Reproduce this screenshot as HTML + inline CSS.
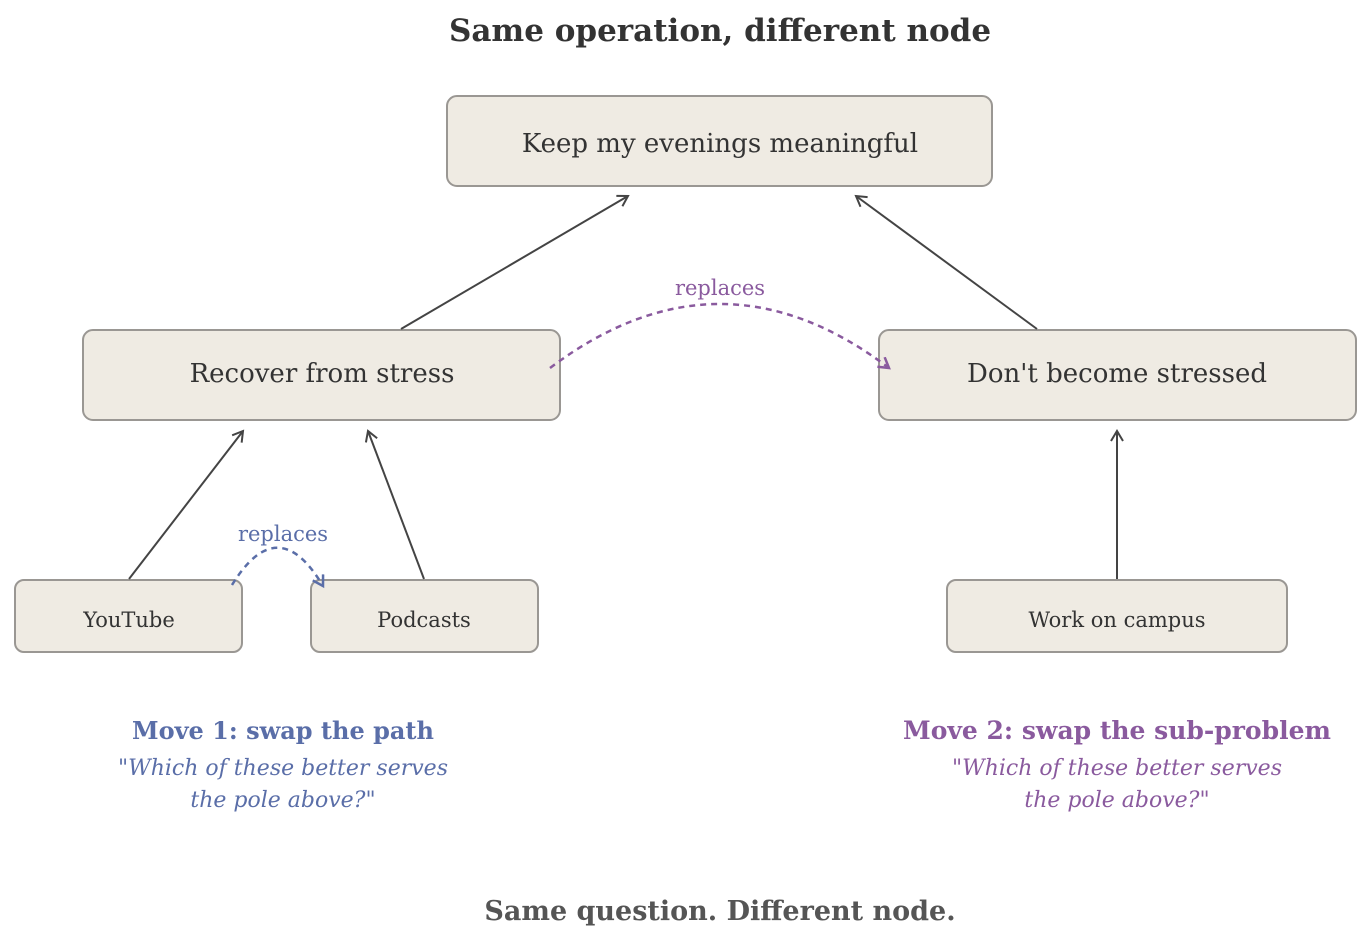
<!DOCTYPE html>
<html><head><meta charset="utf-8"><style>
html,body{margin:0;padding:0;background:#fff;}
svg text{font-family:"DejaVu Serif","Liberation Serif",serif;}
</style></head><body>
<svg width="1371" height="933" viewBox="0 0 1371 933" xmlns="http://www.w3.org/2000/svg">
<defs>
<marker id="ag" markerWidth="14" markerHeight="14" refX="11" refY="7" orient="auto" markerUnits="userSpaceOnUse"><path d="M1,1 L11,7 L1,13" fill="none" stroke="#444" stroke-width="2"/></marker>
<marker id="ap" markerWidth="14" markerHeight="14" refX="11" refY="7" orient="auto" markerUnits="userSpaceOnUse"><path d="M1,1 L11,7 L1,13" fill="none" stroke="#8a5a9e" stroke-width="2.5"/></marker>
<marker id="ab" markerWidth="14" markerHeight="14" refX="11" refY="7" orient="auto" markerUnits="userSpaceOnUse"><path d="M1,1 L11,7 L1,13" fill="none" stroke="#5a6ea8" stroke-width="2.5"/></marker>
</defs>
<text x="720" y="41" text-anchor="middle" font-size="31" font-weight="bold" fill="#333">Same operation, different node</text>
<g fill="#efebe3" stroke="#9a9793" stroke-width="2">
<rect x="447" y="96" width="545" height="90" rx="10"/>
<rect x="83" y="330" width="477" height="90" rx="10"/>
<rect x="879" y="330" width="477" height="90" rx="10"/>
<rect x="15" y="580" width="227" height="72" rx="9"/>
<rect x="311" y="580" width="227" height="72" rx="9"/>
<rect x="947" y="580" width="340" height="72" rx="9"/>
</g>
<g fill="#333" text-anchor="middle">
<text x="720" y="152" font-size="26">Keep my evenings meaningful</text>
<text x="322" y="382" font-size="26">Recover from stress</text>
<text x="1117" y="382" font-size="26">Don't become stressed</text>
<text x="129" y="627" font-size="21">YouTube</text>
<text x="424" y="627" font-size="21">Podcasts</text>
<text x="1117" y="627" font-size="21">Work on campus</text>
</g>
<g stroke="#444" stroke-width="2" fill="none">
<line x1="401" y1="329" x2="628" y2="196" marker-end="url(#ag)"/>
<line x1="1037" y1="329" x2="856" y2="196" marker-end="url(#ag)"/>
<line x1="129" y1="579" x2="243" y2="431" marker-end="url(#ag)"/>
<line x1="424" y1="579" x2="368" y2="431" marker-end="url(#ag)"/>
<line x1="1117" y1="579" x2="1117" y2="431" marker-end="url(#ag)"/>
</g>
<path d="M550,368 Q720,240 889,368" fill="none" stroke="#8a5a9e" stroke-width="2.5" stroke-dasharray="6,5" marker-end="url(#ap)"/>
<text x="720" y="295" text-anchor="middle" font-size="21" fill="#8a5a9e">replaces</text>
<path d="M232,585 Q278,510 323,586" fill="none" stroke="#5a6ea8" stroke-width="2.5" stroke-dasharray="6,5" marker-end="url(#ab)"/>
<text x="283" y="541" text-anchor="middle" font-size="21" fill="#5a6ea8">replaces</text>
<g text-anchor="middle">
<text x="283" y="739" font-size="24" font-weight="bold" fill="#5a6ea8">Move 1: swap the path</text>
<text x="283" y="775" font-size="22" font-style="italic" fill="#5a6ea8">"Which of these better serves</text>
<text x="283" y="807" font-size="22" font-style="italic" fill="#5a6ea8">the pole above?"</text>
<text x="1117" y="739" font-size="25" font-weight="bold" fill="#8a5a9e">Move 2: swap the sub-problem</text>
<text x="1117" y="775" font-size="22" font-style="italic" fill="#8a5a9e">"Which of these better serves</text>
<text x="1117" y="807" font-size="22" font-style="italic" fill="#8a5a9e">the pole above?"</text>
<text x="720" y="920" font-size="27" font-weight="bold" fill="#555">Same question. Different node.</text>
</g>
</svg>
</body></html>
